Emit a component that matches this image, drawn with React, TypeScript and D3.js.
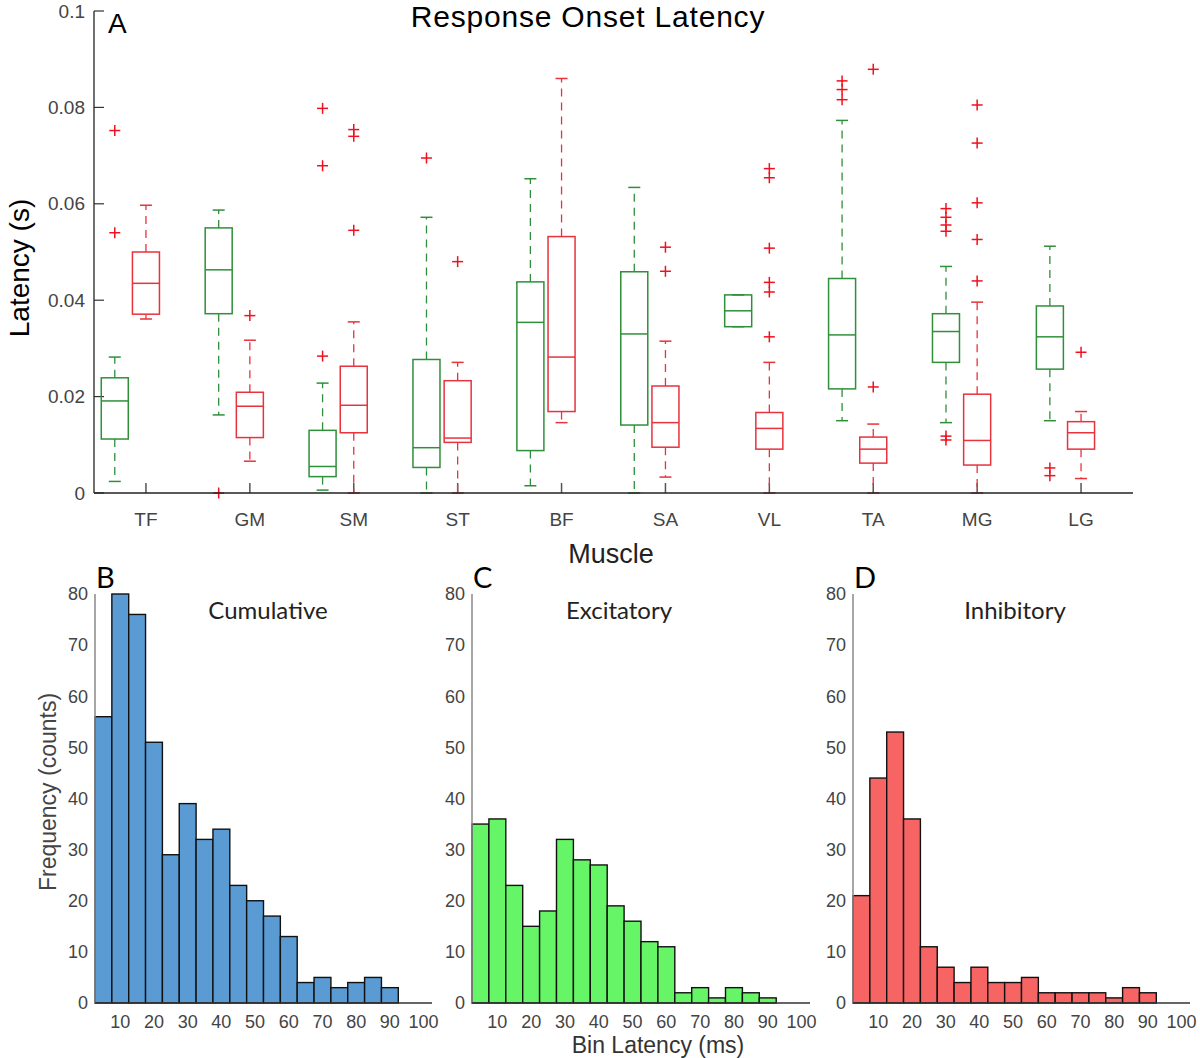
import React from 'react';
import * as d3 from 'd3';

// ---------- Panel A data (latency in s) ----------
const categories = ['TF', 'GM', 'SM', 'ST', 'BF', 'SA', 'VL', 'TA', 'MG', 'LG'];

// Excitatory (green)
const excLo = [0.0024, 0.0162, 0.0006, 0, 0.0015, 0, 0.0345, 0.015, 0.0146, 0.015];
const excQ1 = [0.0112, 0.0372, 0.0034, 0.0053, 0.0088, 0.0141, 0.0345, 0.0216, 0.0271, 0.0257];
const excMed = [0.0191, 0.0463, 0.0055, 0.0094, 0.0354, 0.033, 0.0378, 0.0328, 0.0335, 0.0324];
const excQ3 = [0.0239, 0.055, 0.013, 0.0277, 0.0438, 0.0459, 0.0411, 0.0445, 0.0372, 0.0388];
const excHi = [0.0282, 0.0587, 0.0228, 0.0572, 0.0652, 0.0634, 0.0411, 0.0773, 0.047, 0.0512];
const excOut = [
  [0.0752, 0.054],
  [0],
  [0.0798, 0.0679, 0.0284],
  [0.0695],
  [],
  [],
  [],
  [0.0855, 0.0837, 0.0816],
  [0.059, 0.0572, 0.0556, 0.0543, 0.0118, 0.011],
  [0.0052, 0.0036],
];

// Inhibitory (red)
const inhLo = [0.0361, 0.0066, 0, 0, 0.0146, 0.0033, 0, 0, 0, 0.003];
const inhQ1 = [0.0371, 0.0115, 0.0125, 0.0105, 0.0169, 0.0095, 0.0091, 0.0062, 0.0058, 0.0091];
const inhMed = [0.0435, 0.018, 0.0182, 0.0114, 0.0282, 0.0146, 0.0134, 0.0091, 0.0109, 0.0125];
const inhQ3 = [0.05, 0.0209, 0.0263, 0.0233, 0.0532, 0.0222, 0.0167, 0.0116, 0.0205, 0.0148];
const inhHi = [0.0597, 0.0317, 0.0355, 0.0271, 0.086, 0.0315, 0.0271, 0.0143, 0.0396, 0.0169];
const inhOut = [
  [],
  [0.0368],
  [0.0754, 0.074, 0.0545],
  [0.048],
  [],
  [0.051, 0.046],
  [0.0673, 0.0654, 0.0508, 0.0437, 0.0417, 0.0324],
  [0.0879, 0.022],
  [0.0805, 0.0726, 0.0602, 0.0526, 0.044],
  [0.0292],
];

const latencyTicks = [0, 0.02, 0.04, 0.06, 0.08, 0.1];
const latencyTickLabels = ['0', '0.02', '0.04', '0.06', '0.08', '0.1'];

// ---------- Histogram data ----------
const binCenters = [5, 10, 15, 20, 25, 30, 35, 40, 45, 50, 55, 60, 65, 70, 75, 80, 85, 90];
const cumulativeCounts = [56, 80, 76, 51, 29, 39, 32, 34, 23, 20, 17, 13, 4, 5, 3, 4, 5, 3];
const excitatoryCounts = [35, 36, 23, 15, 18, 32, 28, 27, 19, 16, 12, 11, 2, 3, 1, 3, 2, 1];
const inhibitoryCounts = [21, 44, 53, 36, 11, 7, 4, 7, 4, 4, 5, 2, 2, 2, 2, 1, 3, 2];
const histXTicks = [10, 20, 30, 40, 50, 60, 70, 80, 90, 100];
const histYTicks = [0, 10, 20, 30, 40, 50, 60, 70, 80];

const GREEN = '#2f8f3a';
const RED = '#e8323c';
const OUT_RED = '#f0101e';
const FONT = 'Liberation Sans, Arial, sans-serif';
const CAL = 'Lato, "Open Sans", sans-serif';

function BoxGroup({ x, y, pos, lo, q1, med, q3, hi, out, color, boxW, capW }: any) {
  const cx = x(pos);
  return (
    <g>
      <line x1={cx} x2={cx} y1={y(q3)} y2={y(hi)} stroke={color} strokeWidth={1.3} strokeDasharray="8,6" />
      <line x1={cx} x2={cx} y1={y(q1)} y2={y(lo)} stroke={color} strokeWidth={1.3} strokeDasharray="8,6" />
      <line x1={cx - capW / 2} x2={cx + capW / 2} y1={y(hi)} y2={y(hi)} stroke={color} strokeWidth={1.5} />
      <line x1={cx - capW / 2} x2={cx + capW / 2} y1={y(lo)} y2={y(lo)} stroke={color} strokeWidth={1.5} />
      <rect x={cx - boxW / 2} y={y(q3)} width={boxW} height={Math.max(0, y(q1) - y(q3))} fill="none" stroke={color} strokeWidth={1.5} />
      <line x1={cx - boxW / 2} x2={cx + boxW / 2} y1={y(med)} y2={y(med)} stroke={color} strokeWidth={1.5} />
      {out.map((v: number, i: number) => (
        <g key={i} stroke={OUT_RED} strokeWidth={1.5}>
          <line x1={cx - 5.5} x2={cx + 5.5} y1={y(v)} y2={y(v)} />
          <line x1={cx} x2={cx} y1={y(v) - 5.5} y2={y(v) + 5.5} />
        </g>
      ))}
    </g>
  );
}

function Histogram({ left, right, counts, fill, letter, title, titleX, showYLabel, showXLabel }: any) {
  const x = d3.scaleLinear().domain([2.5, 102.5]).range([left, right]);
  const y = d3.scaleLinear().domain([0, 80]).range([1003, 594]);
  const bw = x(5) - x(0);
  return (
    <g>
      {counts.map((c: number, i: number) => (
        <rect key={i} x={x(binCenters[i] - 2.5)} y={y(c)} width={bw} height={y(0) - y(c)} fill={fill} stroke="#111" strokeWidth={1.4} />
      ))}
      <line x1={left} x2={left} y1={y(0)} y2={y(80)} stroke="#888" strokeWidth={1.5} />
      <line x1={left} x2={right} y1={y(0)} y2={y(0)} stroke="#333" strokeWidth={1.3} />
      {histYTicks.map((t) => (
        <text key={t} x={left - 7} y={y(t)} dy="0.35em" textAnchor="end" fontFamily={FONT} fontSize={18} fill="#444">{t}</text>
      ))}
      {histXTicks.map((t) => (
        <text key={t} x={x(t)} y={1022} dy="0.35em" textAnchor="middle" fontFamily={FONT} fontSize={18} fill="#444">{t}</text>
      ))}
      <text x={left + 1} y={588} fontFamily={CAL} fontSize={29} fill="#000">{letter}</text>
      <text x={titleX} y={619} textAnchor="middle" fontFamily={CAL} fontSize={24} fill="#222">{title}</text>
      {showYLabel && (
        <text transform={`translate(56,${792}) rotate(-90)`} textAnchor="middle" fontFamily={FONT} fontSize={23} fill="#444">Frequency (counts)</text>
      )}
      {showXLabel && (
        <text x={658} y={1053} textAnchor="middle" fontFamily={FONT} fontSize={23} fill="#333">Bin Latency (ms)</text>
      )}
    </g>
  );
}

export default function App() {
  const x = d3.scaleLinear().domain([0.5, 10.5]).range([94, 1133]);
  const y = d3.scaleLinear().domain([0, 0.1]).range([493, 11]);
  const unit = x(1) - x(0);
  const boxW = 0.26 * unit;
  const capW = 12;
  return (
    <svg width={1200} height={1058} style={{ position: 'absolute', left: 0, top: 0, background: '#fff' }}>
      <rect width={1200} height={1058} fill="#fff" />
      {/* Panel A */}
      <text x={588} y={27} textAnchor="middle" fontFamily={FONT} fontSize={30} fill="#000" letterSpacing={0.8}>Response Onset Latency</text>
      <text x={108} y={33} fontFamily={FONT} fontSize={28} fill="#000">A</text>
      <text transform={`translate(29,${268}) rotate(-90)`} textAnchor="middle" fontFamily={FONT} fontSize={28} fill="#000">Latency (s)</text>
      <text x={611} y={563} textAnchor="middle" fontFamily={FONT} fontSize={27} fill="#222">Muscle</text>
      {latencyTicks.map((t, i) => (
        <g key={t}>
          <line x1={94} x2={104} y1={y(t)} y2={y(t)} stroke="#333" strokeWidth={1.2} />
          <text x={85} y={y(t)} dy="0.35em" textAnchor="end" fontFamily={FONT} fontSize={19} fill="#444">{latencyTickLabels[i]}</text>
        </g>
      ))}
      {categories.map((c, i) => (
        <g key={c}>
          <line x1={x(i + 1)} x2={x(i + 1)} y1={y(0)} y2={y(0) - 10} stroke="#555" strokeWidth={1.5} />
          <text x={x(i + 1)} y={519} dy="0.35em" textAnchor="middle" fontFamily={FONT} fontSize={19} fill="#444">{c}</text>
        </g>
      ))}
      {categories.map((c, i) => (
        <g key={'b' + c}>
          <BoxGroup x={x} y={y} pos={i + 1 - 0.3} lo={excLo[i]} q1={excQ1[i]} med={excMed[i]} q3={excQ3[i]} hi={excHi[i]} out={excOut[i]} color={GREEN} boxW={boxW} capW={capW} />
          <BoxGroup x={x} y={y} pos={i + 1} lo={inhLo[i]} q1={inhQ1[i]} med={inhMed[i]} q3={inhQ3[i]} hi={inhHi[i]} out={inhOut[i]} color={RED} boxW={boxW} capW={capW} />
        </g>
      ))}
      <line x1={94} x2={94} y1={y(0)} y2={y(0.1)} stroke="#222" strokeWidth={1.3} />
      <line x1={94} x2={1133} y1={y(0)} y2={y(0)} stroke="#222" strokeWidth={1.3} />

      {/* Histograms */}
      <Histogram left={95} right={432} counts={cumulativeCounts} fill="#5a9bd3" letter="B" title="Cumulative" titleX={268} showYLabel />
      <Histogram left={472} right={810} counts={excitatoryCounts} fill="#66f566" letter="C" title="Excitatory" titleX={619} showXLabel />
      <Histogram left={853} right={1190} counts={inhibitoryCounts} fill="#f76464" letter="D" title="Inhibitory" titleX={1015} />
    </svg>
  );
}
